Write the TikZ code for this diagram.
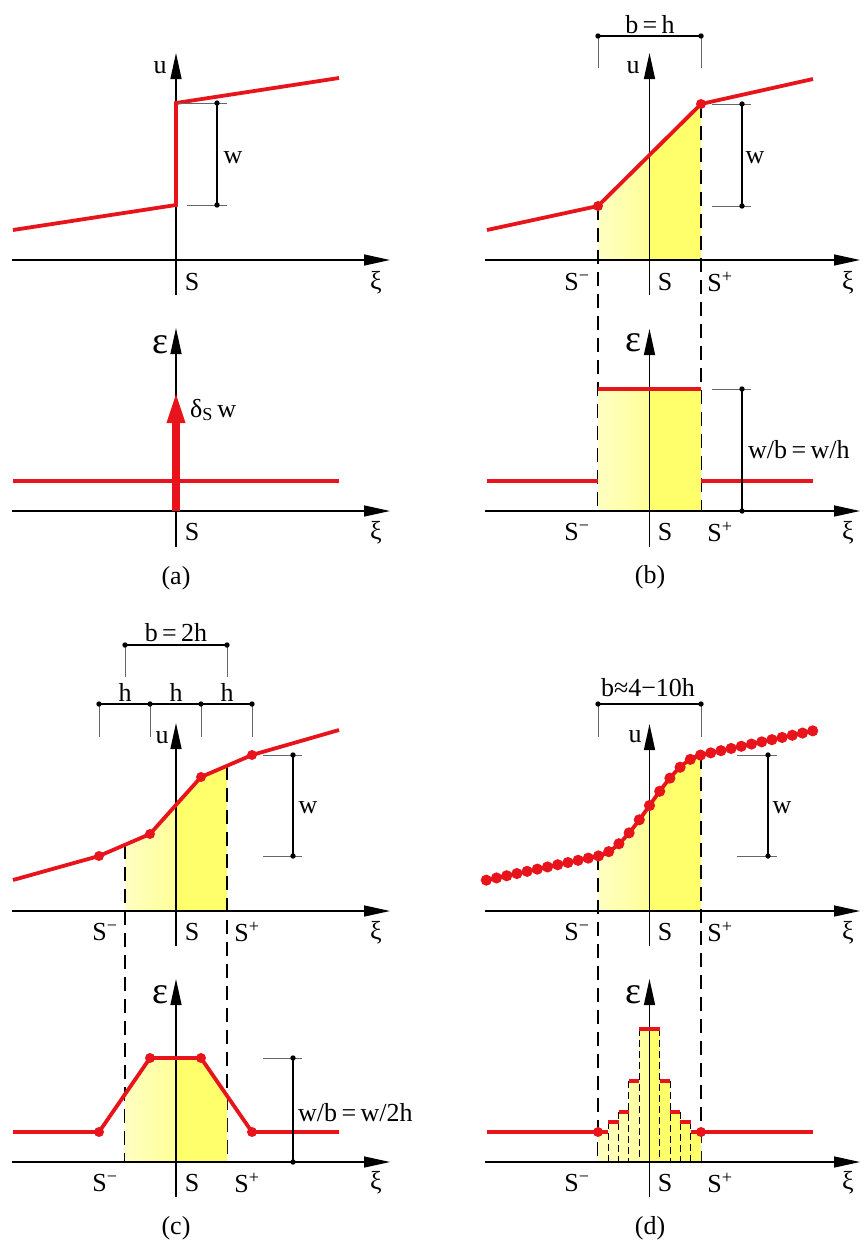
\documentclass[tikz,border=0pt]{standalone}
\usepackage{fontspec}
\setmainfont{Liberation Serif}
\usetikzlibrary{arrows.meta, calc, positioning}
\definecolor{curvered}{HTML}{E8141C}
\definecolor{yelpale}{HTML}{FFFFC2}
\definecolor{yelmid}{HTML}{FFFF98}
\definecolor{yelfull}{HTML}{FFFF6C}
\tikzset{
  >={Triangle[length=26pt, width=11pt]},
  every picture/.style={line join=round},
  axis/.style={->, line width=1.4pt},
  curve/.style={curvered, line width=3.8pt},
  guide/.style={dash pattern=on 14pt off 8pt, line width=1.3pt},
  stepguide/.style={dash pattern=on 7pt off 4pt, line width=1.1pt},
  dimline/.style={line width=1.2pt},
  ext/.style={line width=1pt, black!60},
  halfpale/.style={left color=yelpale, right color=yelmid, draw=none},
  halffull/.style={fill=yelfull, draw=none},
  lbl/.style={font=\fontsize{26}{30}\selectfont, inner sep=0pt},
  biglbl/.style={font=\fontsize{38}{40}\selectfont, inner sep=0pt},
  % red knot on a curve
  knot/.pic={\fill[curvered] (0,0) circle (5pt);},
  % black end point of a dimension line
  dimdot/.pic={\fill (0,0) circle (2.7pt);},
}
\newcommand{\Sm}{S\textsuperscript{−}}
\newcommand{\Sp}{S\textsuperscript{+}}

\begin{document}
\begin{tikzpicture}[x=1pt, y=-1pt,
  declare function={uS(\x)=805.5-0.216*(\x-649.5)-39.4*sin(90*max(-1,min(1,(\x-649.5)/51.5)));}]
  \useasboundingbox (0,0) rectangle (863,1245);

  % ---------------- (a) displacement ----------------
  \draw[axis] (12,260) -- (390,260);
  \draw[axis] (176,295) -- (176,53);
  \draw[curve, line join=miter] (13,230) -- (176,205) -- (176,103) -- (339,78);
  \draw[ext] (187,205) -- (227,205) (178,103) -- (227,103);
  \draw[dimline] (217,103) -- (217,205);
  \foreach \p in {(217,103),(217,205)} \pic at \p {dimdot};
  \node[lbl] (a-u) at (160,68) {u};
  \node[lbl] (a-w) at (233,158) {w};
  \node[lbl] (a-S) at (192,282) {S};
  \node[lbl] (a-xi) at (376,283) {ξ};

  % (a) strain
  \draw[axis] (12,511) -- (390,511);
  \draw[axis] (176,547) -- (176,328);
  \draw[curve] (13,481) -- (339,481);
  \draw[curvered, line width=8pt, -{Triangle[length=33pt, width=16pt]}] (176,511) -- (176,390);
  \node[biglbl] (a-eps) at (160,345) {ε};
  \node[lbl, anchor=west] (a-delta) at (190,410) {δ\textsubscript{S}\,w};
  \node[lbl] (a-S2) at (192,532) {S};
  \node[lbl] (a-xi2) at (376,533) {ξ};
  \node[lbl] (a-cap) at (176,578) {(a)};

  % ---------------- (b) displacement ----------------
  \path[halfpale] (598,260) -- (598,206) -- (649.5,155) -- (649.5,260) -- cycle;
  \path[halffull] (649.5,260) -- (649.5,155) -- (701,104) -- (701,260) -- cycle;
  \draw[guide] (598,206) -- (598,511) (701,104) -- (701,511);
  \draw[axis] (485,260) -- (860,260);
  \draw[axis] (649.5,295) -- (649.5,53);
  \draw[curve] (487,230) -- (598,206) -- (701,104) -- (813,79);
  \foreach \p in {(598,206),(701,104)} \pic at \p {knot};
  \draw[ext] (598,36) -- (598,68) (701,36) -- (701,68);
  \draw[dimline] (598,36) -- (701,36);
  \foreach \p in {(598,36),(701,36)} \pic at \p {dimdot};
  \node[lbl] (b-width) at (650,25) {b\,=\,h};
  \draw[ext] (712,104) -- (751,104) (712,206) -- (751,206);
  \draw[dimline] (742,104) -- (742,206);
  \foreach \p in {(742,104),(742,206)} \pic at \p {dimdot};
  \node[lbl] (b-u) at (633,68) {u};
  \node[lbl] (b-w) at (755,158) {w};
  \node[lbl] (b-Sm) at (577,282) {\Sm};
  \node[lbl] (b-S) at (665,282) {S};
  \node[lbl] (b-Sp) at (720,282) {\Sp};
  \node[lbl] (b-xi) at (848,283) {ξ};

  % (b) strain
  \path[halfpale] (598,511) rectangle (649.5,389);
  \path[halffull] (649.5,511) rectangle (701,389);
  \draw[axis] (485,511) -- (860,511);
  \draw[axis] (649.5,547) -- (649.5,329);
  \draw[curve] (487,481) -- (598,481) (598,389) -- (701,389) (701,481) -- (813,481);
  \draw[ext] (712,389) -- (751,389);
  \draw[dimline] (742,389) -- (742,511);
  \foreach \p in {(742,389),(742,511)} \pic at \p {dimdot};
  \node[biglbl] (b-eps) at (633,343) {ε};
  \node[lbl, anchor=west] (b-ratio) at (748,450) {w/b\,=\,w/h};
  \node[lbl] (b-Sm2) at (577,532) {\Sm};
  \node[lbl] (b-S2) at (665,532) {S};
  \node[lbl] (b-Sp2) at (720,532) {\Sp};
  \node[lbl] (b-xi2) at (848,533) {ξ};
  \node[lbl] (b-cap) at (650,577) {(b)};

  % ---------------- (c) displacement ----------------
  \path[halfpale] (125,911) -- (125,844.8) -- (150,834) -- (176,804.9) -- (176,911) -- cycle;
  \path[halffull] (176,911) -- (176,804.9) -- (201,777) -- (227,765.8) -- (227,911) -- cycle;
  \draw[guide] (125,844.8) -- (125,1162) (227,765.8) -- (227,1162);
  \draw[axis] (12,911) -- (390,911);
  \draw[axis] (176,946) -- (176,723);
  \draw[curve] (13,880) -- (99,856) -- (150,834) -- (201,777) -- (252,755) -- (339,730);
  \foreach \p in {(99,856),(150,834),(201,777),(252,755)} \pic at \p {knot};
  \draw[ext] (125,645) -- (125,677) (227,645) -- (227,677);
  \draw[dimline] (125,645) -- (227,645);
  \foreach \p in {(125,645),(227,645)} \pic at \p {dimdot};
  \node[lbl] (c-width) at (176,633) {b\,=\,2h};
  \foreach \hx in {99,150,201,252} {
    \draw[ext] (\hx,704) -- (\hx,737);
    \pic at (\hx,704) {dimdot};
  }
  \draw[dimline] (99,704) -- (252,704);
  \foreach \hx [count=\i] in {125,176,227} \node[lbl] (c-h\i) at (\hx,692) {h};
  \draw[ext] (263,755) -- (302,755) (263,856) -- (302,856);
  \draw[dimline] (293,755) -- (293,856);
  \foreach \p in {(293,755),(293,856)} \pic at \p {dimdot};
  \node[lbl] (c-u) at (162,738) {u};
  \node[lbl] (c-w) at (308,808) {w};
  \node[lbl] (c-Sm) at (105,932) {\Sm};
  \node[lbl] (c-S) at (192,932) {S};
  \node[lbl] (c-Sp) at (247,932) {\Sp};
  \node[lbl] (c-xi) at (376,933) {ξ};

  % (c) strain
  \path[halfpale] (125,1162) -- (125,1094.3) -- (150,1058) -- (176,1058) -- (176,1162) -- cycle;
  \path[halffull] (176,1162) -- (176,1058) -- (201,1058) -- (227,1094.3) -- (227,1162) -- cycle;
  \draw[axis] (12,1162) -- (390,1162);
  \draw[axis] (176,1197) -- (176,979);
  \draw[curve] (13,1132) -- (99,1132) -- (150,1058) -- (201,1058) -- (252,1132) -- (339,1132);
  \foreach \p in {(99,1132),(150,1058),(201,1058),(252,1132)} \pic at \p {knot};
  \draw[ext] (263,1058) -- (302,1058);
  \draw[dimline] (293,1058) -- (293,1162);
  \foreach \p in {(293,1058),(293,1162)} \pic at \p {dimdot};
  \node[biglbl] (c-eps) at (160,995) {ε};
  \node[lbl, anchor=west] (c-ratio) at (298,1113) {w/b\,=\,w/2h};
  \node[lbl] (c-Sm2) at (105,1183) {\Sm};
  \node[lbl] (c-S2) at (192,1183) {S};
  \node[lbl] (c-Sp2) at (247,1183) {\Sp};
  \node[lbl] (c-xi2) at (376,1183) {ξ};
  \node[lbl] (c-cap) at (176,1228) {(c)};

  % ---------------- (d) displacement ----------------
  \path[halfpale] (598,911) -- plot[domain=598:649.5, samples=30] (\x,{uS(\x)}) -- (649.5,911) -- cycle;
  \path[halffull] (649.5,911) -- plot[domain=649.5:701, samples=30] (\x,{uS(\x)}) -- (701,911) -- cycle;
  \draw[guide] (598,856) -- (598,1162) (701,755) -- (701,1162);
  \draw[axis] (485,911) -- (860,911);
  \draw[axis] (649.5,946) -- (649.5,724);
  \draw[curve] plot[domain=486:813, samples=120] (\x,{uS(\x)});
  \foreach \k in {-16,...,16}
    \fill[curvered] ({649.5+10.2*\k},{uS(649.5+10.2*\k)}) circle (5.6pt);
  \draw[ext] (598,704) -- (598,737) (701,704) -- (701,737);
  \draw[dimline] (598,704) -- (701,704);
  \foreach \p in {(598,704),(701,704)} \pic at \p {dimdot};
  \node[lbl] (d-width) at (648,688) {b≈4−10h};
  \draw[ext] (737,755) -- (777,755) (737,856) -- (777,856);
  \draw[dimline] (768,755) -- (768,856);
  \foreach \p in {(768,755),(768,856)} \pic at \p {dimdot};
  \node[lbl] (d-u) at (635,737) {u};
  \node[lbl] (d-w) at (782,808) {w};
  \node[lbl] (d-Sm) at (577,932) {\Sm};
  \node[lbl] (d-S) at (665,932) {S};
  \node[lbl] (d-Sp) at (720,932) {\Sp};
  \node[lbl] (d-xi) at (848,933) {ξ};

  % (d) strain: one step per element
  \path[halfpale] (598,1162) -- (598,1132) -- (608.3,1132) -- (608.3,1122) -- (618.6,1122)
    -- (618.6,1112) -- (628.9,1112) -- (628.9,1081) -- (639.2,1081) -- (639.2,1029)
    -- (649.5,1029) -- (649.5,1162) -- cycle;
  \path[halffull] (701,1162) -- (701,1132) -- (690.7,1132) -- (690.7,1122) -- (680.4,1122)
    -- (680.4,1112) -- (670.1,1112) -- (670.1,1081) -- (659.8,1081) -- (659.8,1029)
    -- (649.5,1029) -- (649.5,1162) -- cycle;
  \foreach \ex/\ey in {608.3/1122, 618.6/1112, 628.9/1081, 639.2/1029,
                       659.8/1029, 670.1/1081, 680.4/1112, 690.7/1122}
    \draw[stepguide] (\ex,\ey) -- (\ex,1162);
  \draw[axis] (485,1162) -- (860,1162);
  \draw[axis] (649.5,1197) -- (649.5,979);
  \draw[curve] (487,1132) -- (608.3,1132) (701,1132) -- (813,1132);
  \foreach \xa/\xb/\ey in {608.3/618.6/1122, 618.6/628.9/1112, 628.9/639.2/1081,
                           639.2/659.8/1029, 659.8/670.1/1081, 670.1/680.4/1112,
                           680.4/690.7/1122, 690.7/701/1132}
    \draw[curve] (\xa,\ey) -- (\xb,\ey);
  \foreach \p in {(598,1132),(701,1132)} \pic at \p {knot};
  \node[biglbl] (d-eps) at (633,995) {ε};
  \node[lbl] (d-Sm2) at (577,1183) {\Sm};
  \node[lbl] (d-S2) at (665,1183) {S};
  \node[lbl] (d-Sp2) at (720,1183) {\Sp};
  \node[lbl] (d-xi2) at (848,1183) {ξ};
  \node[lbl] (d-cap) at (650,1228) {(d)};
\end{tikzpicture}
\end{document}
